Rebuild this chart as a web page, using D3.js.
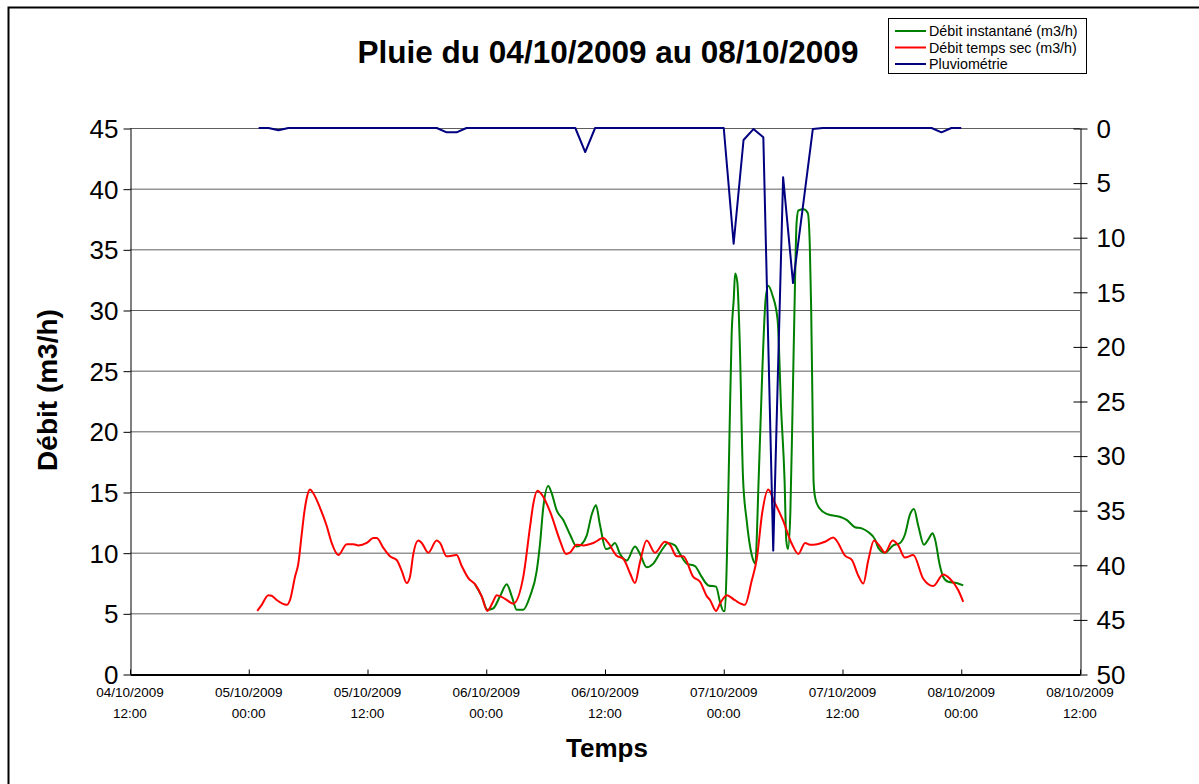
<!DOCTYPE html>
<html><head><meta charset="utf-8">
<script src="https://cdn.jsdelivr.net/npm/d3@7"></script>
<style>
body{margin:0;background:#fff}
svg{display:block}
text{font-family:"Liberation Sans",Arial,sans-serif;fill:#000}
</style>
</head><body>
<svg id="c" width="1199" height="784"></svg>
<script>
// ---- DATA (time = hours after 05/10/2009 00:00) ----
const sec_t = [0.86,1.31,1.98,2.32,2.82,3.83,4.17,4.67,5.01,5.35,5.61,5.86,6.19,6.52,7.2,7.88,8.38,9.05,9.9,10.56,11.07,11.92,12.59,12.93,13.6,14.27,14.95,15.46,15.96,16.29,16.63,17.13,17.48,18.14,18.99,19.33,20.0,21.01,21.52,22.19,22.86,23.54,24.11,24.71,25.06,25.89,26.73,27.74,28.42,28.75,29.16,29.6,30.44,31.45,32.06,32.46,33.14,33.81,34.82,35.83,36.33,37.18,37.85,38.53,39.03,39.53,40.21,41.05,42.06,42.57,43.24,43.91,44.92,45.6,46.3,46.61,47.22,47.62,48.32,49.09,50.14,50.83,51.35,51.88,52.5,53.1,53.97,54.84,55.54,56.22,56.72,57.45,58.23,59.07,59.4,60.26,60.94,61.6,62.1,62.6,63.18,63.79,64.29,65.07,65.63,66.31,67.15,68.16,69.17,70.18,70.86,71.7,72.2];
const sec_v = [5.2,5.7,6.5,6.45,6.1,5.7,6.1,8.0,9.1,11.5,13.3,14.5,15.2,14.9,13.7,12.2,10.8,9.8,10.7,10.7,10.6,10.8,11.2,11.2,10.4,9.7,9.4,8.5,7.5,8.0,9.9,11.0,10.8,10.0,11.0,10.8,9.7,9.8,8.9,7.9,7.4,6.4,5.2,6.0,6.5,6.2,5.8,8.0,12.1,14.0,15.1,14.8,13.4,11.0,9.9,10.0,10.65,10.6,10.8,11.2,10.8,9.75,9.5,8.3,7.5,9.2,11.0,10.0,10.9,10.65,9.7,9.7,8.0,7.6,6.4,6.1,5.2,5.8,6.5,6.1,5.7,7.7,9.55,13.25,15.2,14.2,12.7,10.8,9.9,10.8,10.65,10.7,10.9,11.25,11.0,9.75,9.4,8.1,7.45,9.35,11.0,10.5,10.0,11.0,10.6,9.6,9.8,7.85,7.25,8.2,7.85,6.9,5.95];

const inst_t = [22.86,23.54,24.11,24.69,25.39,26.07,26.58,27.08,27.74,28.42,29.1,29.43,29.76,30.27,30.61,31.11,31.78,32.46,33.14,33.64,34.15,34.66,35.09,35.49,36.1,36.5,37.01,37.51,38.19,39.03,39.53,40.21,40.88,41.73,42.39,43.07,43.58,44.25,45.09,45.77,46.44,47.22,47.62,47.97,48.12,48.31,48.56,48.8,49.01,49.15,49.37,49.61,49.95,50.31,50.83,51.18,51.53,51.88,52.23,52.5,52.93,53.44,53.8,54.14,54.32,54.49,54.73,54.95,55.19,55.36,55.54,56.06,56.49,56.69,56.83,56.97,57.07,57.22,57.55,58.4,59.92,60.42,61.26,61.94,62.6,63.28,63.62,64.29,65.13,65.81,66.31,66.82,67.22,67.66,68.23,68.67,69.11,69.35,69.85,70.18,70.69,71.54,72.2];
const inst_v = [7.4,6.4,5.3,5.4,6.4,7.4,6.4,5.3,5.3,6.4,8.5,10.7,13.7,15.5,14.9,13.5,12.7,11.5,10.5,10.7,11.4,13.15,13.9,12.3,10.3,10.4,10.8,9.9,9.35,10.5,9.9,8.8,9.1,10.2,10.8,10.6,9.9,9.1,8.9,8.0,7.3,7.2,5.95,5.2,5.2,9.3,18.9,28.1,30.9,33.0,32.3,27.5,16.1,12.7,9.8,9.1,16.1,24.6,30.9,32.0,31.2,29.2,21.8,16.1,11.0,10.3,13.3,21.8,31.8,37.2,38.2,38.3,38.0,35.5,30.3,22.0,16.0,14.6,13.8,13.2,12.9,12.7,12.1,12.0,11.7,11.1,10.4,10.0,10.6,10.8,11.5,13.15,13.6,12.2,10.65,11.1,11.6,11.1,8.9,8.0,7.6,7.5,7.3];

// hourly rainfall, 05/10 01:00 .. 08/10 00:00
const pluie_t = d3.range(1, 73);
const pluie_v = [0,0,0.2,0,0,0,0,0,0,0,0,0,0,0,0,0,0,0,0,0.4,0.4,0,0,0,0,0,0,0,0,0,0,0,0,2.2,0,0,0,0,0,0,0,0,0,0,0,0,0,0,10.6,1.1,0.1,0.85,38.7,4.5,14.2,7.2,0.1,0,0,0,0,0,0,0,0,0,0,0,0,0.4,0,0];

const leftTicks = [0,5,10,15,20,25,30,35,40,45];
const rightTicks = [0,5,10,15,20,25,30,35,40,45,50];
const xTickHours = [-12,0,12,24,36,48,60,72,84];

const title = "Pluie du 04/10/2009 au 08/10/2009";
const legendLabels = ["Débit instantané (m3/h)","Débit temps sec (m3/h)","Pluviométrie"];
const colors = ["#008000","#ff0000","#000080"];

// ---- CHART ----
const base = new Date(2009, 9, 5, 0, 0);
const toDate = h => new Date(base.getTime() + h * 3600000);
const L = 130, R = 1080, T = 128, B = 674;
const svg = d3.select("#c");

svg.append("rect").attr("x",8.5).attr("y",7.5).attr("width",1300).attr("height",900)
  .attr("fill","#fff").attr("stroke","#000").attr("stroke-width",2);

const x = d3.scaleTime().domain([toDate(-12), toDate(84)]).range([L, R]);
const yL = d3.scaleLinear().domain([0,45]).range([B, T]);
const yR = d3.scaleLinear().domain([0,50]).range([T, B]);

// gridlines
svg.append("g").selectAll("line").data(leftTicks.filter(d=>d>0)).join("line")
  .attr("x1",L).attr("x2",R).attr("y1",d=>yL(d)+0.5).attr("y2",d=>yL(d)+0.5)
  .attr("stroke","#5e5e5e").attr("stroke-width",1);

// left axis
const gl = svg.append("g").attr("transform",`translate(${L+0.5},0)`)
  .call(d3.axisLeft(yL).tickValues(leftTicks).tickSize(7).tickPadding(5).tickSizeOuter(0));
gl.select(".domain").attr("stroke","#000");
gl.selectAll(".tick line").attr("stroke","#000").attr("transform","translate(0,0.5)");
gl.selectAll("text").style("font-size","26px").attr("dy","0.36em");

// right axis
const gr = svg.append("g").attr("transform",`translate(${R+0.5},0)`)
  .call(d3.axisRight(yR).tickValues(rightTicks).tickSize(7).tickPadding(9).tickSizeOuter(0));
gr.select(".domain").attr("stroke","#000");
gr.selectAll(".tick line").attr("x1",-7).attr("stroke","#000").attr("transform","translate(0,0.5)");
gr.selectAll("text").style("font-size","26px").attr("dy","0.36em");

// bottom axis
const gb = svg.append("g").attr("transform",`translate(0,${B+0.5})`)
  .call(d3.axisBottom(x).tickValues(xTickHours.map(toDate)).tickSize(-5).tickFormat("").tickSizeOuter(0));
gb.select(".domain").attr("stroke","#000").attr("stroke-width",2);
gb.selectAll(".tick line").attr("stroke","#000");
const fD = d3.timeFormat("%d/%m/%Y"), fH = d3.timeFormat("%H:%M");
const xl = svg.append("g");
xTickHours.forEach(h => {
  const d = toDate(h);
  const t = xl.append("text").attr("x", x(d)).attr("text-anchor","middle").style("font-size","13.5px");
  t.append("tspan").attr("x", x(d)).attr("y", 697).text(fD(d));
  t.append("tspan").attr("x", x(d)).attr("y", 718).text(fH(d));
});

// lines
const lineL = d3.line().x(d=>x(toDate(d[0]))).y(d=>yL(d[1])).curve(d3.curveMonotoneX);
const lineR = d3.line().x(d=>x(toDate(d[0]))).y(d=>yR(d[1]));
svg.append("path").datum(inst_t.map((t,i)=>[t,inst_v[i]])).attr("d",lineL)
  .attr("fill","none").attr("stroke",colors[0]).attr("stroke-width",2).attr("stroke-linejoin","round");
svg.append("path").datum(sec_t.map((t,i)=>[t,sec_v[i]])).attr("d",lineL)
  .attr("fill","none").attr("stroke",colors[1]).attr("stroke-width",2).attr("stroke-linejoin","round");
svg.append("path").datum(pluie_t.map((t,i)=>[t,pluie_v[i]])).attr("d",lineR)
  .attr("fill","none").attr("stroke",colors[2]).attr("stroke-width",2).attr("stroke-linejoin","round");

// titles
svg.append("text").attr("x",608).attr("y",63).attr("text-anchor","middle")
  .style("font-size","31.5px").style("font-weight","bold").text(title);
svg.append("text").attr("transform","translate(57,390) rotate(-90)").attr("text-anchor","middle")
  .style("font-size","28px").style("font-weight","bold").text("Débit (m3/h)");
svg.append("text").attr("x",607).attr("y",757).attr("text-anchor","middle")
  .style("font-size","26px").style("font-weight","bold").text("Temps");

// legend
const lg = svg.append("g");
lg.append("rect").attr("x",888.5).attr("y",18.5).attr("width",198).attr("height",55)
  .attr("fill","#fff").attr("stroke","#000").attr("stroke-width",1);
legendLabels.forEach((lab,i) => {
  const yy = 31 + i*16.5;
  lg.append("line").attr("x1",895).attr("x2",926).attr("y1",yy).attr("y2",yy)
    .attr("stroke",colors[i]).attr("stroke-width",2);
  lg.append("text").attr("x",929).attr("y",yy+5).style("font-size","14.3px").text(lab);
});
</script>
</body></html>
